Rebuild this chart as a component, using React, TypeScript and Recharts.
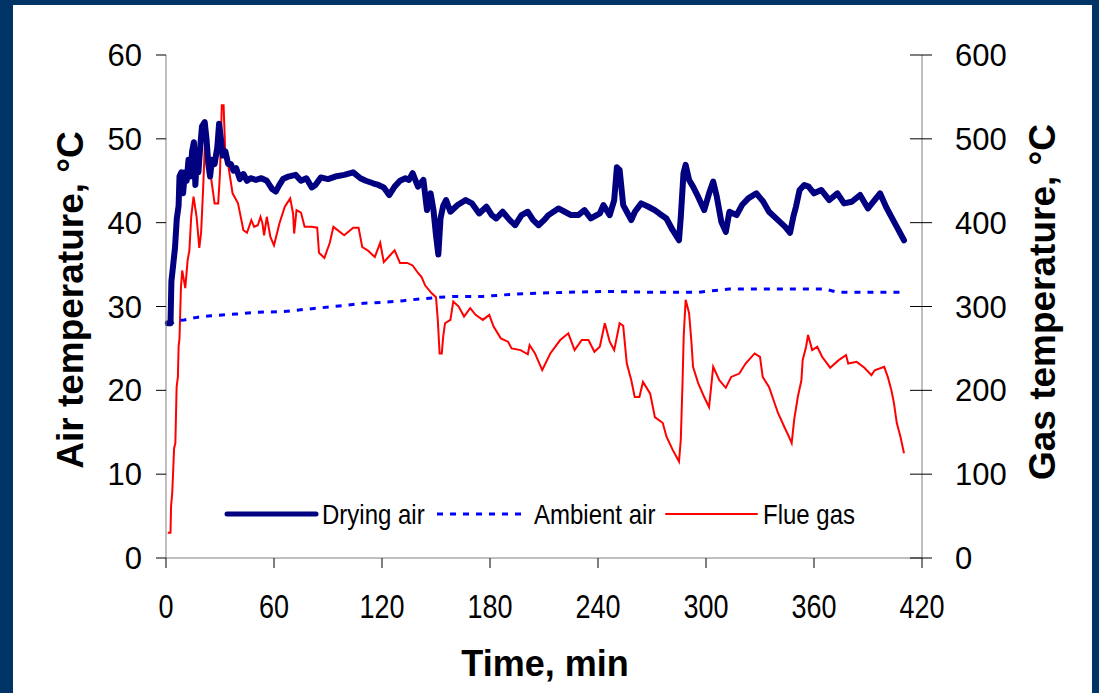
import { LineChart, Line, XAxis, YAxis } from 'recharts';

// Drying air (left axis, °C)
const dryingTime = [
  1, 2.5, 3, 4, 5, 6, 7, 7.5, 8.5, 9.5, 10.5, 11.5, 12.5, 13.5, 14.5, 15.5, 16.3, 17, 18, 19, 20, 21.5,
  22.5, 23.5, 24.5, 25.5, 27, 28.5, 29.5, 30.5, 31.5, 33, 34.5, 36, 37.5, 39, 41, 43, 45, 47, 50, 53, 56,
  59, 61, 63, 65, 68, 72, 75, 78, 81, 83, 86, 90, 94, 99, 104, 108, 111, 115, 118, 121, 124, 127, 130,
  133, 135, 137, 140, 143, 145, 147, 148.6, 150, 151.3, 152.5, 154, 155.6, 158, 162, 166.5, 170, 174,
  178, 181, 183.5, 187, 191, 194, 197.5, 201, 204, 207, 210, 212.5, 218, 221.5, 225, 229, 232.5, 236,
  241, 243, 246.5, 249, 250.5, 252, 254, 256, 258.5, 260.5, 264, 268, 271.5, 274, 278, 281.5, 285, 286,
  287.5, 288.7, 290.6, 292.8, 295.6, 299, 302, 304, 306, 308.5, 311, 313, 317, 320, 323.5, 328, 331.8,
  335, 340, 344, 346.7, 348.5, 350, 352, 354.6, 357, 360, 364, 368.5, 373, 376.7, 381, 385.6, 390, 393,
  396.7, 400, 403, 406, 410,
];
const dryingTemp = [
  28.0, 28.0, 33, 35, 37, 40.5, 42, 45.5, 46, 43.5, 46, 45, 47.5, 45.5, 48.5, 49.6, 44.5, 47, 46, 49, 51.5, 52,
  50, 47, 45.5, 47.5, 47, 49, 51.8, 50, 48, 48.5, 47, 47, 46.2, 46.5, 45.2, 45.8, 45, 45.3, 45.1, 45.3, 45,
  44, 43.7, 44.5, 45.2, 45.5, 45.7, 45, 45.3, 44.2, 44.5, 45.4, 45.2, 45.5, 45.7, 46, 45.3, 45, 44.7, 44.5,
  44.2, 43.3, 44.3, 45, 45.3, 45.1, 45.9, 44.3, 45.1, 41.5, 43.5, 41.5, 38.5, 36.2, 40.5, 42, 42.7, 41.3,
  42.1, 42.7, 42.3, 41.1, 41.9, 40.9, 40.5, 41.3, 40.3, 39.7, 40.9, 41.3, 40.3, 39.7, 40.3, 40.9, 41.7,
  41.3, 40.9, 40.9, 41.5, 40.5, 41.1, 42.1, 40.9, 42.7, 46.6, 46.3, 42.1, 41.3, 40.3, 41.3, 42.3, 41.9,
  41.5, 41.1, 40.5, 39.1, 37.9, 40.7, 45.9, 46.9, 45.1, 44.3, 43.1, 41.5, 43.7, 44.9, 43.1, 40.1, 38.9,
  41.3, 40.9, 42.1, 42.9, 43.5, 42.5, 41.3, 40.3, 39.5, 38.8, 40.7, 41.9, 43.9, 44.5, 44.3, 43.5, 43.9,
  42.7, 43.5, 42.3, 42.5, 43.3, 41.7, 42.5, 43.5, 41.9, 40.7, 39.5, 37.9,
];

// Ambient air (left axis, °C)
const ambientTime = [
  1, 4, 6, 10, 17, 25, 39, 50, 65, 70, 84, 98, 110, 121, 132, 141, 152, 160, 176, 195, 223, 245, 268, 296,
  313, 366, 373, 408,
];
const ambientTemp = [
  28.1, 28.1, 28.3, 28.4, 28.7, 28.9, 29.1, 29.3, 29.4, 29.5, 29.8, 30.1, 30.4, 30.5, 30.7, 30.9, 31.1,
  31.2, 31.2, 31.5, 31.7, 31.8, 31.7, 31.7, 32.1, 32.1, 31.7, 31.7,
];

// Flue gas (right axis, °C)
const flueTime = [
  1, 2.5, 2.8, 3.5, 4.5, 5.2, 5.9, 6.6, 7, 7.5, 8.3, 9, 10.7, 12, 13, 14, 15.3, 17, 18.5, 19.5, 20.6, 22,
  23, 24, 25, 27, 29, 30, 31, 32, 33, 34.4, 37, 40, 43, 45, 47.4, 49, 51, 52.5, 53.5, 54.5, 56, 58, 60,
  63, 66, 69, 70.6, 71.2, 72.5, 75, 77, 81, 84, 85, 88, 91, 93, 99, 104, 107, 109, 112, 116, 119, 121,
  124, 127, 130, 134, 137, 140, 142, 144, 147.5, 150, 151, 152, 153.2, 154, 155, 158, 159.6, 162.6, 165.6,
  169, 172, 176, 179.6, 182, 186, 190, 192, 197, 201, 202, 205, 209, 213.5, 219, 223.5, 227, 231, 234.7,
  238, 241, 243.8, 246.5, 249, 252, 254, 256, 258.5, 260.4, 263, 265, 269, 271.6, 276, 278, 281.5, 285,
  286, 287, 287.6, 288.7, 290.6, 291.9, 292.8, 295.6, 299, 301.7, 304, 307.4, 311, 314, 318.5, 322, 327,
  330, 331.5, 335, 340, 343.6, 346, 347.6, 349, 351, 353, 353.7, 355.6, 356.7, 359, 361.8, 364.5, 369,
  373.7, 377.8, 379, 383.7, 388, 391.9, 393.7, 399, 401, 403, 404.4, 406, 408, 410,
];
const flueTemp = [
  30, 30, 61, 79, 131, 137, 204, 216, 252, 262, 323, 343, 322, 355, 367, 407, 431, 407, 370, 388, 439, 514,
  490, 478, 454, 423, 423, 459, 540, 540, 478, 471, 435, 423, 391, 388, 403, 395, 397, 407, 400, 385, 407,
  383, 373, 399, 419, 429, 411, 387, 415, 412, 395, 395, 394, 364, 358, 376, 395, 385, 394, 394, 371, 367,
  359, 376, 353, 360, 367, 352, 352, 349, 340, 335, 325, 316, 311, 284, 244, 244, 264, 280, 284, 306, 300,
  288, 298, 290, 284, 290, 276, 262, 258, 250, 248, 243, 254, 244, 224, 244, 260, 268, 248, 260, 260, 246,
  252, 280, 258, 248, 280, 277, 232, 212, 192, 192, 210, 196, 168, 161, 145, 129, 115, 141, 212, 264, 308,
  292, 258, 228, 209, 192, 180, 228, 212, 203, 216, 220, 232, 244, 240, 216, 204, 173, 156, 145, 137, 165,
  192, 212, 236, 252, 266, 248, 252, 240, 227, 236, 242, 232, 234, 227, 218, 224, 228, 216, 200, 185, 161,
  145, 125,
];

const timeTicks = [0, 60, 120, 180, 240, 300, 360, 420];
const airTicks = [0, 10, 20, 30, 40, 50, 60];
const gasTicks = [0, 100, 200, 300, 400, 500, 600];

const seriesNames = ['Drying air', 'Ambient air', 'Flue gas'];

const zip = (ts: number[], vs: number[]) => ts.map((t, i) => ({ t, v: vs[i] }));
const dryingData = zip(dryingTime, dryingTemp);
const ambientData = zip(ambientTime, ambientTemp);
const flueData = zip(flueTime, flueTemp);

const FONT = 'Arial, "Liberation Sans", sans-serif';
const NAVY = '#000080';
const BLUE = '#0000FF';
const RED = '#FF0000';

const TimeTick = ({ x, y, payload }: any) => (
  <text
    transform={`translate(${x},${y}) scale(1,1.22)`}
    textAnchor="middle"
    dy="0.71em"
    fontSize={27}
    fontFamily={FONT}
    fill="#000"
  >
    {payload.value}
  </text>
);

const GasTick = ({ x, y, payload }: any) => (
  <g>
    <line x1={x - 45} x2={x - 23} y1={y} y2={y} stroke="#000" strokeWidth={1} />
    <text x={x} y={y} dy="0.36em" textAnchor="start" fontSize={31} fontFamily={FONT} fill="#000">
      {payload.value}
    </text>
  </g>
);

const legendItems = [
  { name: seriesNames[0], color: NAVY, width: 5, dash: undefined, x1: 227, x2: 316, tx: 322 },
  { name: seriesNames[1], color: BLUE, width: 3, dash: '6 7', x1: 437, x2: 524, tx: 534 },
  { name: seriesNames[2], color: RED, width: 2, dash: undefined, x1: 666, x2: 757, tx: 763 },
];

const App = () => {
  return (
    <div style={{ position: 'absolute', left: 0, top: 0, width: 1099, height: 693, background: '#003366' }}>
      <div style={{ position: 'absolute', left: 13, top: 5, width: 1079, height: 688, background: '#fff' }} />
      <div style={{ position: 'absolute', left: 0, top: 0 }}>
        <LineChart width={1099} height={693} margin={{ top: 55, right: 97, bottom: 75, left: 86 }}>
          <XAxis
            type="number"
            dataKey="t"
            domain={[0, 420]}
            ticks={timeTicks}
            allowDuplicatedCategory={false}
            height={60}
            tickSize={10}
            tickMargin={27}
            axisLine={{ stroke: '#808080' }}
            tickLine={{ stroke: '#000' }}
            tick={<TimeTick />}
          />
          <YAxis
            yAxisId="air"
            domain={[0, 60]}
            ticks={airTicks}
            width={80}
            tickSize={10}
            tickMargin={14}
            axisLine={{ stroke: '#808080' }}
            tickLine={{ stroke: '#000' }}
            tick={{ fontSize: 31, fill: '#000', fontFamily: FONT }}
          />
          <YAxis
            yAxisId="gas"
            orientation="right"
            domain={[0, 600]}
            ticks={gasTicks}
            width={80}
            tickSize={10}
            tickMargin={23}
            axisLine={{ stroke: '#808080' }}
            tickLine={false}
            tick={<GasTick />}
          />
          <Line
            yAxisId="gas"
            data={flueData}
            dataKey="v"
            name={seriesNames[2]}
            type="linear"
            stroke={RED}
            strokeWidth={2}
            dot={false}
            isAnimationActive={false}
          />
          <Line
            yAxisId="air"
            data={ambientData}
            dataKey="v"
            name={seriesNames[1]}
            type="linear"
            stroke={BLUE}
            strokeWidth={3}
            strokeDasharray="6 7"
            dot={false}
            isAnimationActive={false}
          />
          <Line
            yAxisId="air"
            data={dryingData}
            dataKey="v"
            name={seriesNames[0]}
            type="linear"
            stroke={NAVY}
            strokeWidth={6}
            strokeLinejoin="round"
            strokeLinecap="round"
            dot={false}
            isAnimationActive={false}
          />
        </LineChart>
      </div>
      <svg width={1099} height={693} style={{ position: 'absolute', left: 0, top: 0, pointerEvents: 'none' }}>
        {legendItems.map((it) => (
          <g key={it.name}>
            <line
              x1={it.x1}
              x2={it.x2}
              y1={514}
              y2={514}
              stroke={it.color}
              strokeWidth={it.width}
              strokeDasharray={it.dash}
              strokeLinecap={it.dash ? 'butt' : 'round'}
            />
            <text
              transform={`translate(${it.tx},514) scale(1,1.15)`}
              dy="0.36em"
              fontSize={24}
              fontFamily={FONT}
              fill="#000"
            >
              {it.name}
            </text>
          </g>
        ))}
        <text
          transform="translate(83,300) rotate(-90)"
          textAnchor="middle"
          fontSize={37}
          fontWeight="bold"
          fontFamily={FONT}
          fill="#000"
        >
          Air temperature, °C
        </text>
        <text
          transform="translate(1055,302) rotate(-90)"
          textAnchor="middle"
          fontSize={37}
          fontWeight="bold"
          fontFamily={FONT}
          fill="#000"
        >
          Gas temperature, °C
        </text>
        <text x={545} y={676} textAnchor="middle" fontSize={36} fontWeight="bold" fontFamily={FONT} fill="#000">
          Time, min
        </text>
      </svg>
    </div>
  );
};

export default App;
